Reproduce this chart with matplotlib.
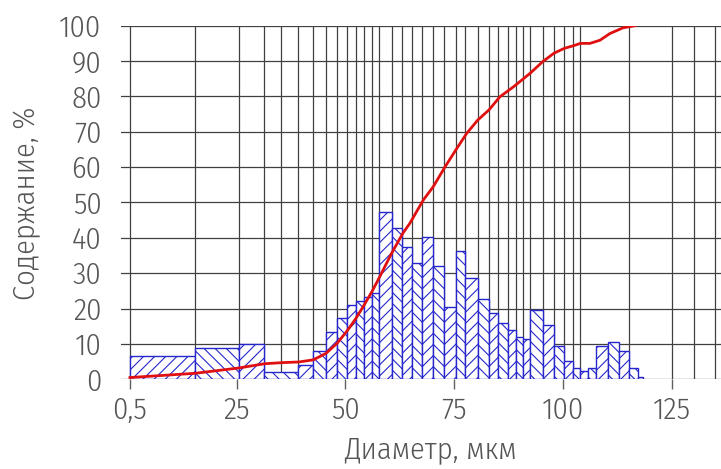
import numpy as np
import matplotlib
matplotlib.use('Agg')
import matplotlib.pyplot as plt
from matplotlib import font_manager as fm
from matplotlib import ft2font

# bin edges of the histogram, um
bin_edges = [0.5, 15.5, 25.5, 31.4, 39.2, 42.6, 45.5, 48.1, 50.4, 52.4,
             54.3, 56.1, 57.8, 60.6, 63.1, 65.4, 67.5, 70.2, 72.6, 75.4,
             77.5, 80.4, 83.0, 85.1, 87.3, 89.2, 90.9, 92.5, 95.3, 97.9,
             100.3, 102.3, 104.0, 105.8, 107.5, 110.4, 112.9, 115.1, 117.3, 118.4]
# content per bin, %
bin_content = [6.6, 8.8, 10.0, 2.0, 4.0, 8.1, 13.5, 17.4, 20.9, 22.2,
               23.4, 24.3, 47.2, 42.9, 37.5, 32.8, 40.2, 32.0, 20.5, 36.2,
               28.7, 22.7, 18.7, 15.9, 13.9, 12.0, 11.3, 19.6, 15.4, 9.4,
               5.2, 3.3, 2.4, 3.2, 9.4, 10.6, 7.9, 3.1, 0.6]

# cumulative curve
cum_x = [0.5, 15.5, 25.5, 31.4, 35.3, 39.3, 42.6, 45.5, 48.1, 50.4, 52.4,
         54.3, 56.1, 57.8, 60.6, 63.2, 64.8, 67.9, 70.2, 72.9, 75.6, 77.9,
         80.4, 83.0, 85.5, 88.6, 92.4, 95.3, 97.9, 100.3, 102.3, 104.0,
         106.2, 108.5, 110.8, 113.8, 116.5]
cum_y = [0.5, 1.7, 3.2, 4.4, 4.7, 4.9, 5.5, 7.3, 10.2, 13.7, 17.2,
         21.0, 24.8, 28.8, 35.6, 41.3, 44.1, 50.7, 54.5, 60.1, 65.3, 69.6,
         73.3, 76.2, 79.9, 82.7, 86.5, 89.8, 92.2, 93.6, 94.3, 95.0,
         95.0, 95.9, 97.8, 99.4, 100.0]

# vertical grid lines of the drawing
grid_x = [0.5, 15.5, 25.5, 31.4, 35.3, 39.2, 42.6, 45.5, 48.1, 50.4, 52.4,
          54.3, 56.1, 57.8, 60.6, 63.1, 65.4, 67.5, 70.2, 72.6, 75.4, 77.5,
          80.4, 83.0, 85.1, 87.3, 89.2, 90.9, 92.5, 95.3, 97.9, 100.3, 102.3,
          104.0, 115.1, 125.0, 130.1, 134.9]

x_ticks = [0.5, 25, 50, 75, 100, 125]
x_tick_labels = ['0,5', '25', '50', '75', '100', '125']
y_ticks = list(range(0, 101, 10))

X_LABEL = 'Диаметр, мкм'
Y_LABEL = 'Содержание, %'


def wnum(w):
    table = {'thin': 100, 'extralight': 200, 'light': 300, 'normal': 400,
             'regular': 400, 'book': 400, 'medium': 500}
    return w if isinstance(w, int) else table.get(str(w).lower(), 400)


def has_chars(fname, text):
    try:
        cmap = ft2font.FT2Font(fname).get_charmap()
    except Exception:
        return False
    return all(ord(c) in cmap for c in set(text) if c != ' ')


# the drawing uses a thin narrow CAD font; take a light condensed face with cyrillic
need = X_LABEL + Y_LABEL + '0123456789,'
narrow = [f for f in fm.fontManager.ttflist
          if f.style == 'normal' and wnum(f.weight) <= 400
          and ('Narrow' in f.name or 'Condensed' in f.name
               or f.stretch in ('condensed', 'semi-condensed', 'extra-condensed'))
          and 'Mono' not in f.name and has_chars(f.fname, need)]
narrow.sort(key=lambda f: abs(wnum(f.weight) - 300))
if narrow:
    FPROP = fm.FontProperties(fname=narrow[0].fname)
    FS = 22
else:
    FPROP = fm.FontProperties(family=['Roboto', 'DejaVu Sans'], weight='light')
    FS = 17

plt.rcParams['hatch.linewidth'] = 0.8
TXT = '#555555'
BLUE = '#2626cc'

fig = plt.figure(figsize=(7.21, 4.69), dpi=100)
ax = fig.add_axes([121/721, 1 - 379.3/469, 1 - 121/721, (379.3 - 25.7)/469])

for x in grid_x:
    ax.axvline(x, color='#404040', lw=0.9, zorder=1)
for y in y_ticks:
    ax.axhline(y, color='#404040', lw=0.9, zorder=1)

widths = np.diff(bin_edges)
hatches = ['///' if i % 2 == 0 else '\\\\\\' for i in range(len(bin_content))]
bars = ax.bar(bin_edges[:-1], bin_content, width=widths, align='edge',
              facecolor='white', edgecolor=BLUE, linewidth=1.0, zorder=2)
for b, h in zip(bars, hatches):
    b.set_hatch(h)

ax.plot(cum_x, cum_y, color='#e01010', lw=2.0, zorder=3)

ax.set_xlim(-1.56, 136.3)
ax.set_ylim(0, 100)
for s in ax.spines.values():
    s.set_visible(False)

ax.set_xticks(x_ticks)
ax.set_xticklabels(x_tick_labels)
ax.set_yticks(y_ticks)
ax.tick_params(axis='x', length=7, width=1, color='#606060', pad=5,
               labelcolor=TXT)
ax.tick_params(axis='y', length=0, pad=14, labelcolor=TXT)
for lab in ax.get_xticklabels() + ax.get_yticklabels():
    lab.set_fontproperties(FPROP)
    lab.set_fontsize(FS)

ax.set_xlabel(X_LABEL, color=TXT, labelpad=10, fontproperties=FPROP)
ax.xaxis.label.set_fontsize(FS)
ax.xaxis.set_label_coords((430 - 121) / 600, -0.2)
ax.xaxis.label.set_verticalalignment('center')
yl = fig.text(27/721, 1 - 203/469, Y_LABEL, rotation=90,
              color=TXT, ha='center', va='center', fontproperties=FPROP)
yl.set_fontsize(FS)

fig.savefig('out.png', dpi=100)
